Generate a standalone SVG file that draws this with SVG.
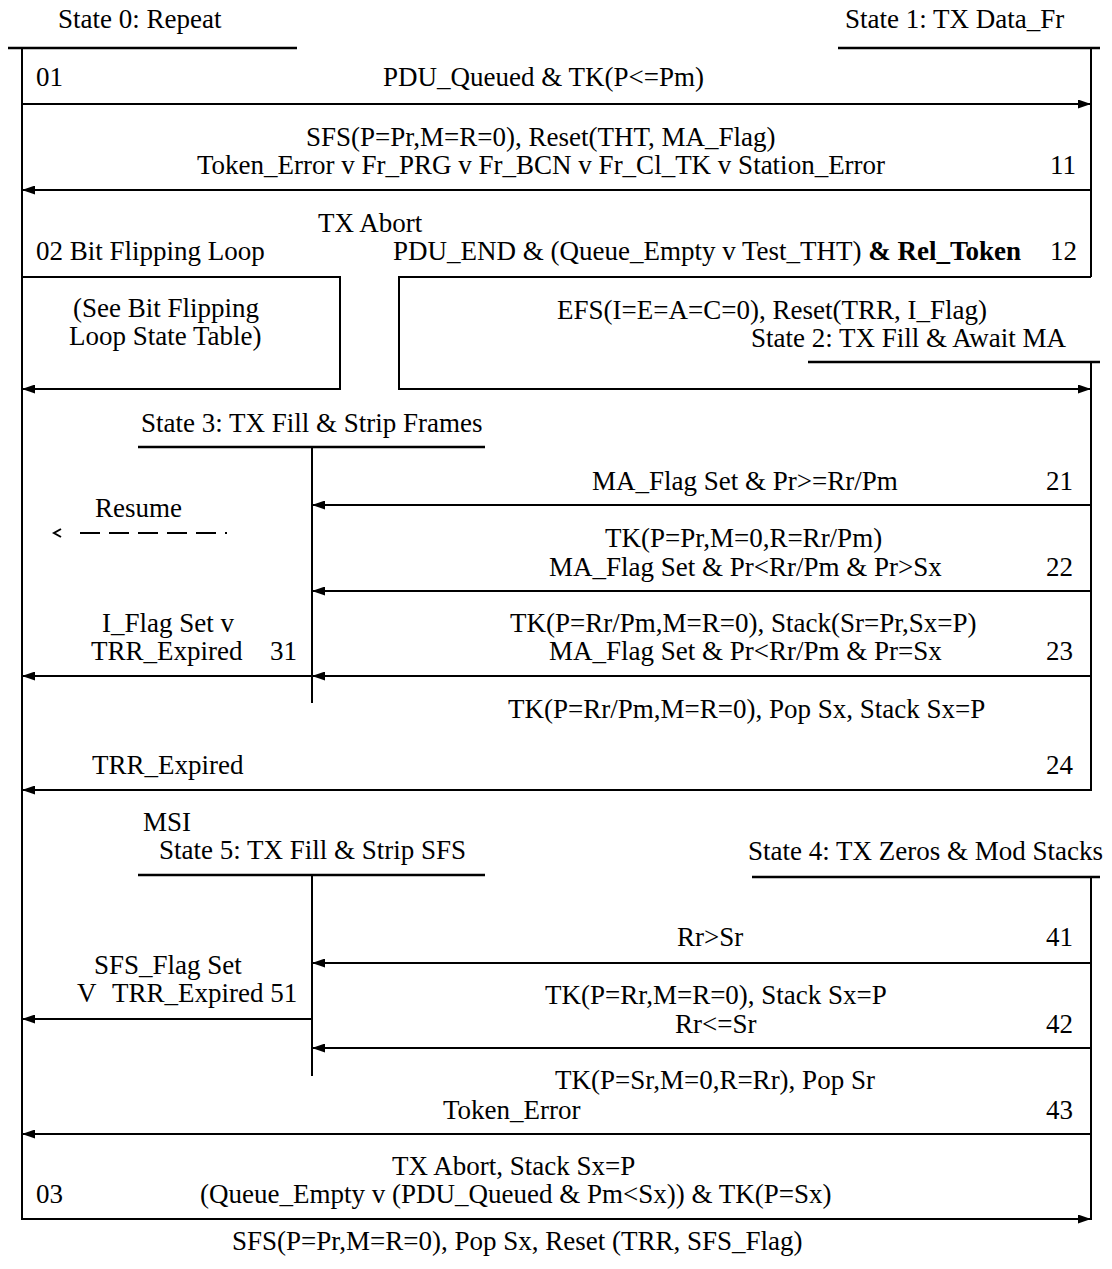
<svg xmlns="http://www.w3.org/2000/svg" width="1112" height="1269" viewBox="0 0 1112 1269">
<defs>
<marker id="ah" markerUnits="userSpaceOnUse" markerWidth="13" markerHeight="9" refX="13" refY="4.5" orient="auto">
<path d="M0,0 L13,4.5 L0,9 Z" fill="#000"/>
</marker>
<style>
text{font-family:"Liberation Serif","Times New Roman",serif;font-size:27px;fill:#000}
.b{font-weight:bold}
.ln{stroke:#000;stroke-width:2;fill:none}
.bar{stroke:#000;stroke-width:2.5;fill:none}
.c{stroke:#000;stroke-width:2;fill:none;marker-end:url(#ah)}
.d{stroke:#000;stroke-width:2;fill:none;stroke-dasharray:20 9}
</style>
</defs>
<rect width="1112" height="1269" fill="#fff"/>

<g id="state0">
<text x="58" y="28">State 0: Repeat</text>
<line class="bar" x1="8" y1="48" x2="297" y2="48"/>
<line class="ln" x1="22" y1="48" x2="22" y2="1220"/>
</g>
<g id="state1">
<text x="845" y="28">State 1: TX Data_Fr</text>
<line class="bar" x1="838" y1="48" x2="1100" y2="48"/>
<line class="ln" x1="1091" y1="48" x2="1091" y2="277"/>
</g>
<g id="bitflip">
<text x="36" y="260">02 Bit Flipping Loop</text>
<text x="73" y="317">(See Bit Flipping</text>
<text x="69" y="345">Loop State Table)</text>
</g>
<g id="state2">
<text x="751" y="347">State 2: TX Fill &amp; Await MA</text>
<line class="bar" x1="808" y1="362" x2="1100" y2="362"/>
<line class="ln" x1="1091" y1="362" x2="1091" y2="791"/>
</g>
<g id="state3">
<text x="141" y="432">State 3: TX Fill &amp; Strip Frames</text>
<line class="bar" x1="138" y1="447" x2="485" y2="447"/>
<line class="ln" x1="312" y1="447" x2="312" y2="703"/>
</g>
<g id="state4">
<text x="748" y="860">State 4: TX Zeros &amp; Mod Stacks</text>
<line class="bar" x1="752" y1="877" x2="1100" y2="877"/>
<line class="ln" x1="1091" y1="877" x2="1091" y2="1220"/>
</g>
<g id="state5">
<text x="143" y="831">MSI</text>
<text x="159" y="859">State 5: TX Fill &amp; Strip SFS</text>
<line class="bar" x1="138" y1="875" x2="485" y2="875"/>
<line class="ln" x1="312" y1="875" x2="312" y2="1076"/>
</g>

<g id="connectors">
<path class="c" d="M22,104 H1091"/>
<path class="c" d="M1091,190 H22"/>
<path class="c" d="M22,277 H340 V389 H22"/>
<path class="c" d="M1091,277 H399 V389 H1091"/>
<path class="c" d="M1091,505 H312"/>
<path class="c" d="M1091,591 H312"/>
<path class="c" d="M1091,676 H312"/>
<path class="c" d="M312,676 H22"/>
<path class="c" d="M1091,790 H22"/>
<path class="d" d="M80,533 H227"/>
<polyline class="ln" points="61,529 54,533 61,537"/>
<path class="c" d="M1091,963 H312"/>
<path class="c" d="M312,1019 H22"/>
<path class="c" d="M1091,1048 H312"/>
<path class="c" d="M1091,1134 H22"/>
<path class="c" d="M22,1219 H1091"/>
</g>

<g id="labels">
<text x="36" y="86">01</text>
<text x="383" y="86">PDU_Queued &amp; TK(P&lt;=Pm)</text>
<text x="306" y="146">SFS(P=Pr,M=R=0), Reset(THT, MA_Flag)</text>
<text x="197" y="174">Token_Error v Fr_PRG v Fr_BCN v Fr_Cl_TK v Station_Error</text>
<text x="1050" y="174">11</text>
<text x="318" y="232">TX Abort</text>
<text x="393" y="260">PDU_END &amp; (Queue_Empty v Test_THT)  <tspan class="b">&amp; Rel_Token</tspan></text>
<text x="1050" y="260">12</text>
<text x="557" y="319">EFS(I=E=A=C=0), Reset(TRR, I_Flag)</text>
<text x="592" y="490">MA_Flag Set &amp; Pr&gt;=Rr/Pm</text>
<text x="1046" y="490">21</text>
<text x="95" y="517">Resume</text>
<text x="605" y="547">TK(P=Pr,M=0,R=Rr/Pm)</text>
<text x="549" y="576">MA_Flag Set &amp; Pr&lt;Rr/Pm &amp; Pr&gt;Sx</text>
<text x="1046" y="576">22</text>
<text x="102" y="632">I_Flag Set v</text>
<text x="91" y="660">TRR_Expired</text>
<text x="270" y="660">31</text>
<text x="510" y="632">TK(P=Rr/Pm,M=R=0), Stack(Sr=Pr,Sx=P)</text>
<text x="549" y="660">MA_Flag Set &amp; Pr&lt;Rr/Pm &amp; Pr=Sx</text>
<text x="1046" y="660">23</text>
<text x="508" y="718">TK(P=Rr/Pm,M=R=0), Pop Sx, Stack Sx=P</text>
<text x="92" y="774">TRR_Expired</text>
<text x="1046" y="774">24</text>
<text x="677" y="946">Rr&gt;Sr</text>
<text x="1046" y="946">41</text>
<text x="94" y="974">SFS_Flag Set</text>
<text x="77" y="1002">V</text>
<text x="112" y="1002">TRR_Expired 51</text>
<text x="545" y="1004">TK(P=Rr,M=R=0), Stack Sx=P</text>
<text x="675" y="1033">Rr&lt;=Sr</text>
<text x="1046" y="1033">42</text>
<text x="555" y="1089">TK(P=Sr,M=0,R=Rr), Pop Sr</text>
<text x="443" y="1119">Token_Error</text>
<text x="1046" y="1119">43</text>
<text x="392" y="1175">TX Abort, Stack Sx=P</text>
<text x="36" y="1203">03</text>
<text x="200" y="1203">(Queue_Empty v (PDU_Queued &amp; Pm&lt;Sx)) &amp; TK(P=Sx)</text>
<text x="232" y="1250">SFS(P=Pr,M=R=0), Pop Sx, Reset (TRR, SFS_Flag)</text>
</g>
</svg>
